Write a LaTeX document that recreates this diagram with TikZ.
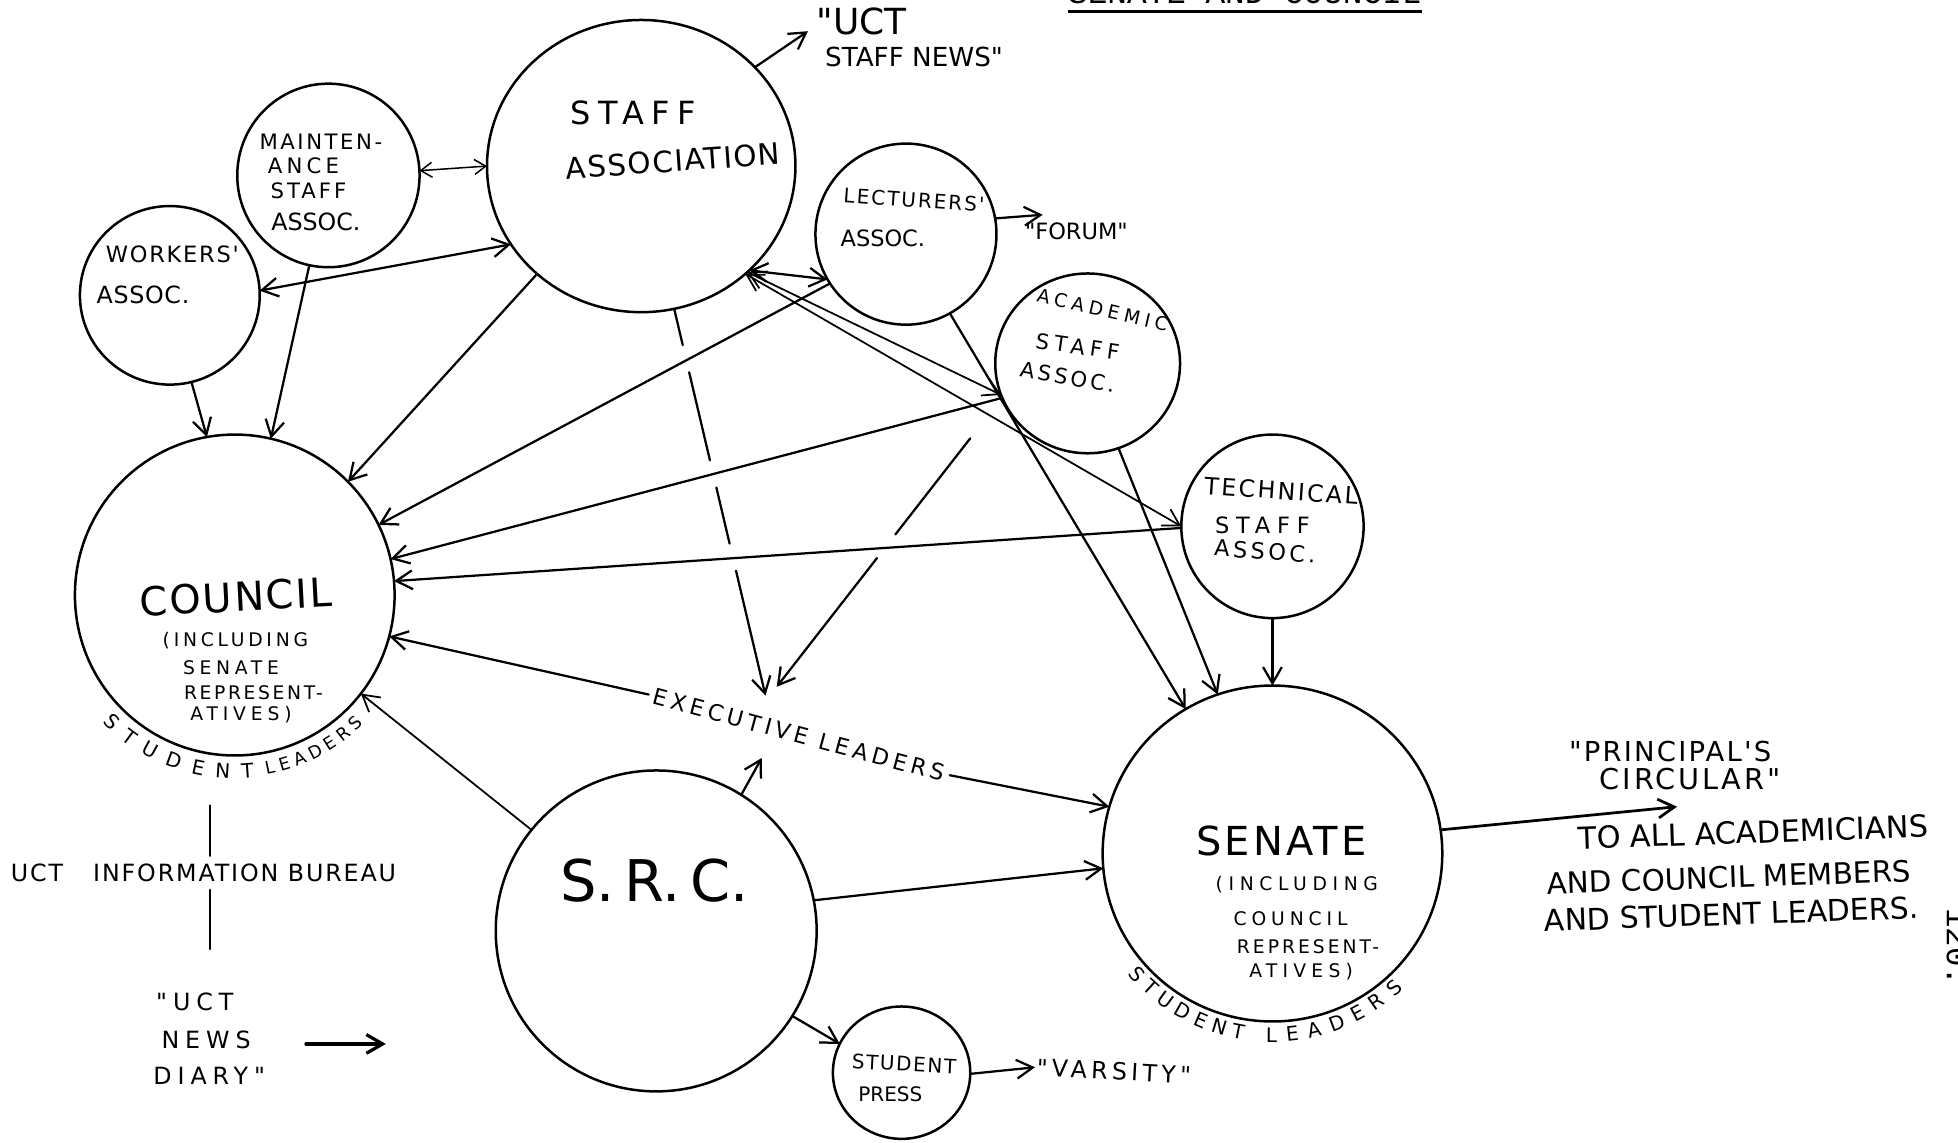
\documentclass[tikz,border=0pt]{standalone}
\usepackage{fontspec}
\newfontfamily\hand{DejaVu Sans}
\newfontfamily\typew{Liberation Mono}
\usetikzlibrary{shapes.geometric,arrows.meta,calc,decorations.text}

% hand lettering: size (pt), letter spacing, text
\newcommand\hw[3]{{\hand\fontsize{#1}{#1}\selectfont\addfontfeatures{LetterSpace=#2}#3}}

\tikzset{
  org/.style={ellipse, draw, line width=1pt, inner sep=0pt, outer sep=0pt},
  lbl/.style={inner sep=0.5pt},
  plain/.style={line width=0.9pt, line cap=round},
  con/.style={plain, line join=round, -{Straight Barb[length=6.5pt,width=7.5pt]}},
  bicon/.style={plain, line join=round,
    {Straight Barb[length=6.5pt,width=7.5pt]}-{Straight Barb[length=6.5pt,width=7.5pt]}},
  bismall/.style={line width=0.6pt, line cap=round,
    {Straight Barb[length=4.5pt,width=6pt]}-{Straight Barb[length=4.5pt,width=6pt]}},
  thinline/.style={line width=0.7pt},
}

\begin{document}
\begin{tikzpicture}[x=0.5pt,y=-0.5pt]
\fill[white] (0,0) rectangle (1568,915);
\useasboundingbox (0,0) rectangle (1568,915);

% ---------- organisations ----------
\node[org, minimum width=123.5pt, minimum height=117pt]  (staff)   at (513.5,133)  {};
\node[org, minimum width=73pt,    minimum height=73.5pt] (maint)   at (263,140.5)  {};
\node[org, minimum width=72pt,    minimum height=71.5pt] (workers) at (136,236.5)  {};
\node[org, minimum width=72.5pt,  minimum height=72.5pt] (lect)    at (725.5,187.5) {};
\node[org, minimum width=74pt,    minimum height=72pt]   (acad)    at (871,291)    {};
\node[org, minimum width=73pt,    minimum height=73.5pt] (tech)    at (1019,421.5) {};
\node[org, minimum width=128pt,   minimum height=128.5pt] (council) at (188,476.5) {};
\node[org, minimum width=128.5pt, minimum height=128.5pt] (src)    at (525.5,745.5) {};
\node[org, minimum width=55pt,    minimum height=53pt]   (press)   at (722,859)    {};
\node[org, minimum width=136pt,   minimum height=134.5pt] (senate) at (1019,683.5) {};

% ---------- lettering inside the circles ----------
\node[lbl] (staffA) at (507,90) {\hw{12.8}{23}{STAFF}};
\node[lbl, rotate=4] (staffB) at (539,129) {\hw{11.8}{5}{ASSOCIATION}};

\node[lbl] (maintA) at (257,113.5) {\hw{8.5}{12}{MAINTEN-}};
\node[lbl] (maintB) at (243,133) {\hw{8.5}{20}{ANCE}};
\node[lbl] (maintC) at (247,153) {\hw{8.5}{14}{STAFF}};
\node[lbl] (maintD) at (253,177.5) {\hw{9.5}{0}{ASSOC.}};

\node[lbl] (workA) at (138,203.5) {\hw{9}{8}{WORKERS'}};
\node[lbl] (workB) at (114.5,236.5) {\hw{9.5}{3}{ASSOC.}};

\node[lbl, rotate=-4] (lectA) at (732,160) {\hw{8}{10}{LECTURERS'}};
\node[lbl] (lectB) at (707,191) {\hw{9}{0}{ASSOC.}};

\node[lbl, rotate=-13, inner sep=0pt] (acadA) at (883,248) {\hw{7.5}{26}{ACADEMIC}};
\node[lbl, rotate=-8, inner sep=0pt]  (acadB) at (863,277.5) {\hw{8.5}{24}{STAFF}};
\node[lbl, rotate=-10] (acadC) at (855,302) {\hw{8.5}{15}{ASSOC.}};

\node[lbl, rotate=-4] (techA) at (1026,393) {\hw{9.5}{10}{TECHNICAL}};
\node[lbl] (techB) at (1011,421) {\hw{9}{30}{STAFF}};
\node[lbl, rotate=-4] (techC) at (1013,441.5) {\hw{9}{15}{ASSOC.}};

\node[lbl, rotate=3] (councilA) at (189,478) {\hw{16}{5}{COUNCIL}};
\node[lbl] (councilB) at (188.5,513) {\hw{7.5}{20}{(INCLUDING}};
\node[lbl] (councilC) at (185,534.5) {\hw{7.5}{25}{SENATE}};
\node[lbl] (councilD) at (203,555) {\hw{7.5}{14}{REPRESENT-}};
\node[lbl, inner sep=0pt] (councilE) at (193,572) {\hw{7.5}{26}{ATIVES)}};

\node[lbl] (senA) at (1026,673.5) {\hw{16}{8}{SENATE}};
\node[lbl] (senB) at (1038.5,708.5) {\hw{7.5}{30}{(INCLUDING}};
\node[lbl] (senC) at (1033.5,735.5) {\hw{7.5}{26}{COUNCIL}};
\node[lbl] (senD) at (1047.5,758) {\hw{7.5}{16}{REPRESENT-}};
\node[lbl] (senE) at (1042,778) {\hw{7.5}{28}{ATIVES)}};

\node[lbl] (srcT) at (524,705) {\hw{23}{0}{S.\,R.\,C.}};

\node[lbl, rotate=-3] (pressA) at (724,852) {\hw{8}{8}{STUDENT}};
\node[lbl] (pressB) at (713,876) {\hw{8}{0}{PRESS}};

% ---------- curved captions under Council and Senate ----------
\path[decorate, decoration={text along path, text align=fit to path,
    text={|\hand\fontsize{8}{9}\selectfont|STUDENT}}]
  ($(council.center)+(136:147)$) arc[start angle=136, end angle=84, radius=147];
\path[decorate, decoration={text along path, text align=fit to path,
    text={|\hand\fontsize{7}{8}\selectfont|LEADERS}}]
  ($(council.center)+(80:146)$) arc[start angle=80, end angle=45, radius=146];
\path[decorate, decoration={text along path, text align=fit to path,
    text={|\hand\fontsize{8}{9}\selectfont|STUDENT}}]
  ($(senate.center)+(140:151)$) arc[start angle=140, end angle=99, radius=151];
\path[decorate, decoration={text along path, text align=fit to path,
    text={|\hand\fontsize{8}{9}\selectfont|LEADERS}}]
  ($(senate.center)+(92:151)$) arc[start angle=92, end angle=46, radius=151];

% ---------- free-standing lettering ----------
\node[lbl] (ucta) at (690,17) {\hw{14.4}{0}{"UCT}};
\node[lbl] (uctb) at (732,46) {\hw{10.5}{0}{STAFF NEWS"}};
\node[lbl] (forum) at (862,185.5) {\hw{9}{0}{"FORUM"}};
\node[lbl, rotate=-15, inner sep=2pt] (exec) at (640,588.5) {\hw{9}{19}{EXECUTIVE LEADERS}};
\node[lbl, inner sep=3pt] (bureau) at (163,699) {\hw{9.5}{8}{UCT\hspace{12pt}INFORMATION BUREAU}};
\node[lbl] (diaryA) at (156,802.5) {\hw{9.5}{25}{"UCT}};
\node[lbl] (diaryB) at (165,833) {\hw{9.5}{25}{NEWS}};
\node[lbl] (diaryC) at (167.5,861.5) {\hw{9.5}{25}{DIARY"}};
\node[lbl, rotate=-3] (varsity) at (892,858) {\hw{9.5}{18}{"VARSITY"}};
\node[lbl] (princA) at (1337.5,602) {\hw{11}{8}{"PRINCIPAL'S}};
\node[lbl] (princB) at (1353.5,623.5) {\hw{11.5}{10}{CIRCULAR"}};
\node[lbl, rotate=2] (toA) at (1404,666.5) {\hw{12.2}{0}{TO ALL ACADEMICIANS}};
\node[lbl, rotate=2] (toB) at (1384.5,702.5) {\hw{11.8}{0}{AND COUNCIL MEMBERS}};
\node[lbl, rotate=2] (toC) at (1386.5,732) {\hw{12}{0}{AND STUDENT LEADERS.}};

% ---------- page heading and page number (cut by the page edge) ----------
\begin{scope}
  \clip (0,0) rectangle (1568,915);
  \node[inner sep=0pt, anchor=base west] (title) at (855,3)
    {\typew\fontsize{13.1}{14}\selectfont SENATE AND COUNCIL};
  \node[inner sep=0pt, anchor=base west, rotate=-90] (pageno) at (1559,727)
    {\typew\fontsize{13}{14}\selectfont 120.};
\end{scope}
\draw[line width=1.2pt] ([yshift=-3.3pt]title.base west) -- ([yshift=-3.3pt]title.base east);

% ---------- free ends ----------
\coordinate (newsTip) at (647,25);
\coordinate (forumTip) at (835,172);
\coordinate (princTip) at (1343,646);
\coordinate (srcExecTip) at (610,607);
\coordinate (l1s) at (staff.-77.5);
\coordinate (l1e) at (613,557);
\coordinate (l2s) at (777,351);
\coordinate (l2e) at (622,550);
\coordinate (bureauUp) at (168,645);
\coordinate (bureauDown) at (168,760);
\coordinate (diaryTail) at (245,836);
\coordinate (diaryTip) at (309,836);

% ---------- connectors ----------
\draw[con] (staff.41) -- (newsTip);
\draw[bismall] (maint.3.5) -- (staff.180);
\draw[bicon] (workers.3.6) -- (staff.211);
\draw[con] (workers.-76.4) -- (council.100.9);
\draw[con] (maint.258.5) -- (council.77.8);
\draw[con] (staff.226.8) -- (council.45.8);
\draw[con] (lect.213) -- (council.26.4);
\draw[bicon] (staff.-44.5) -- (lect.210);
\draw[bicon, thinline] (staff.-45.5) -- (acad.200.3);
\draw[bicon, thinline] (staff.-46.5) -- (tech.180);
\draw[con] (acad.202.5) -- (council.13.4);
\draw[con] (tech.181) -- (council.5.5);
\draw[con] (lect.-61.9) -- (senate.121.5);
\draw[con] (acad.-70.9) -- (senate.109.7);
\draw[con] (tech.-90) -- (senate.90);
\draw[con] (lect.10.4) -- (forumTip);

% executive leaders: both directions, plus feeds from above and below
\draw[con] (exec.west) -- (council.-15);
\draw[con] (exec.east) -- (senate.164);
\draw[con] (src.58.2) -- (srcExecTip);
% pen lifted where other lines cross
\draw[plain] (l1s) -- ($(l1s)!0.094!(l1e)$);
\draw[plain] ($(l1s)!0.164!(l1e)$) -- ($(l1s)!0.392!(l1e)$);
\draw[plain] ($(l1s)!0.462!(l1e)$) -- ($(l1s)!0.607!(l1e)$);
\draw[con] ($(l1s)!0.677!(l1e)$) -- (l1e);
\draw[plain] (l2s) -- ($(l2s)!0.387!(l2e)$);
\draw[con] ($(l2s)!0.482!(l2e)$) -- (l2e);

\draw[con, thinline] (src.141.6) -- (council.-38.4);
\draw[con] (src.11.7) -- (senate.185.7);
\draw[con] (src.-32) -- (press.155.2);
\draw[con] (press.-1) -- (varsity.west);
\draw[con, line width=1.1pt] (senate.8.1) -- (princTip);

\draw[plain] (bureauUp) -- (bureauUp |- bureau.north);
\draw[plain] (bureauDown |- bureau.south) -- (bureauDown);
\draw[con, line width=1.3pt] (diaryTail) -- (diaryTip);
\end{tikzpicture}
\end{document}
